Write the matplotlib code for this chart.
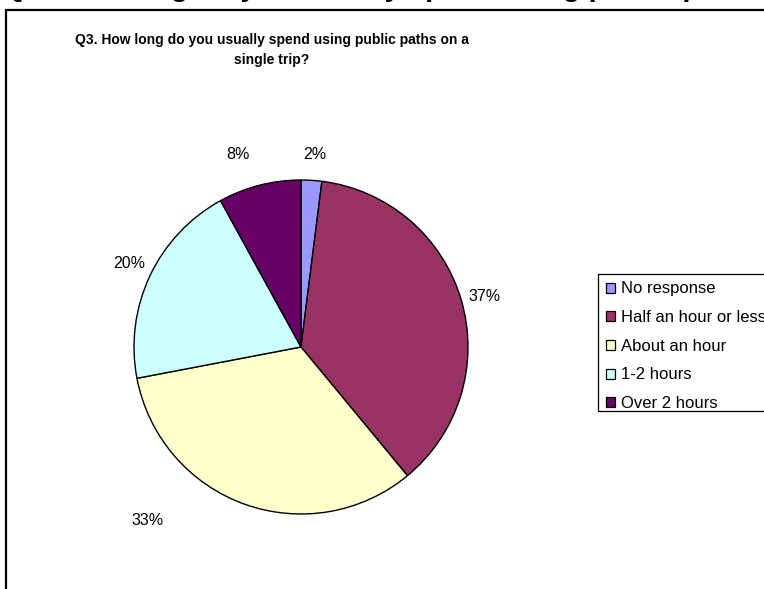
import matplotlib
matplotlib.use("Agg")
import matplotlib.pyplot as plt
from matplotlib.patches import Rectangle

categories = ["No response", "Half an hour or less", "About an hour", "1-2 hours", "Over 2 hours"]
values = [2, 37, 33, 20, 8]
pct_labels = ["2%", "37%", "33%", "20%", "8%"]
colors = ["#9999FF", "#993366", "#FFFFCC", "#CCFFFF", "#660066"]

title_big = "Q3. How long do you usually spend using public paths on a single trip?"
title_inner = "Q3. How long do you usually spend using public paths on a\nsingle trip?"

# label positions (in pie radius units, relative to centre)
label_pos = [(0.08, 1.15), (1.10, 0.30), (-0.92, -1.04), (-1.03, 0.50), (-0.38, 1.15)]

W, H = 764, 589
fig = plt.figure(figsize=(W / 100, H / 100), dpi=100)
fig.patch.set_facecolor("white")
plt.rcParams["font.family"] = ["Liberation Sans", "DejaVu Sans"]

# outer border (chart area), extends beyond right and bottom
fig.add_artist(Rectangle((6 / W, -0.2), 2.0, (1 - 10 / H) + 0.2,
                         transform=fig.transFigure, fill=False,
                         edgecolor="black", linewidth=1.6))

# big cropped title at very top
fig.text(2 / W, 1 + 4.5 / H, title_big, ha="left", va="baseline",
         fontsize=21, fontweight="bold", color="black")

# inner chart title
fig.text(272 / W, 1 - 50 / H, title_inner, ha="center", va="center",
         fontsize=10, fontweight="bold", linespacing=1.5, color="black")

cx, cy, r = 301, 347, 167
ax = fig.add_axes([(cx - r) / W, 1 - (cy + r) / H, 2 * r / W, 2 * r / H])
wedges, texts = ax.pie(values, colors=colors, startangle=90, counterclock=False,
                       labels=pct_labels, labeldistance=1.12,
                       wedgeprops=dict(edgecolor="black", linewidth=1.0),
                       textprops=dict(fontsize=11.5, color="black"))
for t, (px, py) in zip(texts, label_pos):
    t.set_position((px, py))
    t.set_ha("center")
    t.set_va("center")
ax.set_xlim(-1, 1)
ax.set_ylim(-1, 1)
ax.set_aspect("equal")
ax.axis("off")

# legend frame (extends past the right edge like the reference)
fig.add_artist(Rectangle((598 / W, 1 - 411 / H), 1.0, 137 / H,
                         transform=fig.transFigure, fill=False,
                         edgecolor="black", linewidth=0.9))

leg = fig.legend(wedges, categories, loc="upper left",
                 bbox_to_anchor=(598 / W, 1 - 274 / H), bbox_transform=fig.transFigure,
                 frameon=False, borderaxespad=0,
                 fontsize=12, handlelength=0.55, handleheight=0.55, handletextpad=0.4,
                 labelspacing=0.82, borderpad=0.45)
for h in leg.legend_handles:
    h.set_edgecolor("black")
    h.set_linewidth(0.9)

fig.savefig("out.png", dpi=100)
